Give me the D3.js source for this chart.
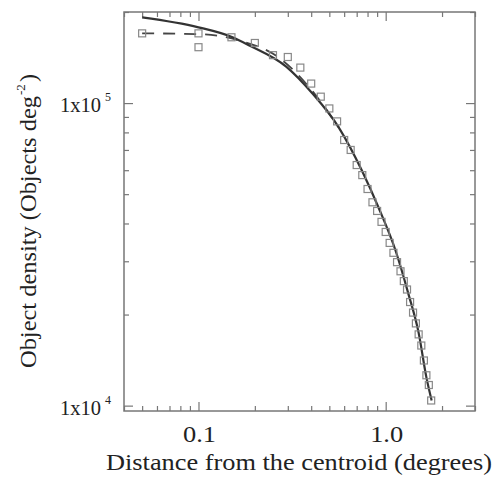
<!DOCTYPE html>
<html><head><meta charset="utf-8">
<script src="https://cdn.jsdelivr.net/npm/d3@7"></script>
<style>body{margin:0;background:#fff}svg{display:block}</style>
</head><body>
<svg id="c" width="495" height="477"></svg>
<script>
// Data
const radius = [0.05,0.1,0.1,0.15,0.2,0.25,0.3,0.35,0.4,0.45,0.5,0.55,0.6,0.65,0.7,0.75,0.8,0.85,0.9,0.95,1.0,1.05,1.1,1.15,1.2,1.25,1.3,1.35,1.4,1.45,1.5,1.55,1.6,1.65,1.7,1.75];
const density = [1.70e5,1.70e5,1.53e5,1.65e5,1.58e5,1.44e5,1.42e5,1.31e5,1.16e5,1.05e5,9.6e4,8.7e4,7.55e4,7.0e4,6.24e4,5.78e4,5.2e4,4.7e4,4.4e4,4.05e4,3.75e4,3.45e4,3.2e4,2.98e4,2.78e4,2.58e4,2.42e4,2.2e4,2.03e4,1.87e4,1.72e4,1.58e4,1.41e4,1.26e4,1.17e4,1.04e4];
const fitSolidX = [0.05,0.1,0.152,0.187,0.294,0.404,0.562,0.745,0.918,1.13,1.32,1.50,1.65,1.76];
const fitSolidY = [1.92e5,1.78e5,1.65e5,1.55e5,1.32e5,1.08e5,8.3e4,6.0e4,4.5e4,3.25e4,2.35e4,1.74e4,1.24e4,1.04e4];
const fitDashX = [0.05,0.1,0.165,0.27,0.404,0.562];
const fitDashY = [1.70e5,1.69e5,1.61e5,1.41e5,1.10e5,8.3e4];
const xMajorLabels = ["0.1","1.0"];
const yMajorLabels = [["1x10","4"],["1x10","5"]];

const svg = d3.select("#c");
const L=124,R=475,T=12,B=411;
const x = d3.scaleLog().domain([0.04,3]).range([L,R]);
const y = d3.scaleLog().domain([9.6e3,2e5]).range([B,T]);
const font = "'Liberation Serif','Times New Roman',serif";
const axisCol = "#777";
const txtCol = "#222";

const isMajor = v => Math.abs(Math.log10(v) - Math.round(Math.log10(v))) < 1e-6;
const xt = x.ticks().filter(v=>v>=0.04 && v<=3);
const yt = y.ticks().filter(v=>v>=9.6e3 && v<=2e5);

function addAxis(axisFn, scale, ticks, transform, horiz, inwardSign){
  const g = svg.append("g").attr("transform",transform);
  g.call(axisFn(scale).tickValues(ticks).tickSize(-5).tickFormat(""));
  g.selectAll(".tick line").filter(d=>isMajor(d)).attr(horiz?"y2":"x2", inwardSign*9);
  g.select(".domain").remove();
  g.selectAll(".tick line").attr("stroke",axisCol).attr("stroke-width",1.2);
  g.selectAll(".tick text").remove();
}
addAxis(d3.axisBottom, x, xt, `translate(0,${B})`, true, -1);
addAxis(d3.axisTop, x, xt, `translate(0,${T})`, true, 1);
addAxis(d3.axisLeft, y, yt, `translate(${L},0)`, false, 1);
addAxis(d3.axisRight, y, yt, `translate(${R},0)`, false, -1);

svg.append("rect").attr("x",L).attr("y",T).attr("width",R-L).attr("height",B-T)
  .attr("fill","none").attr("stroke",axisCol).attr("stroke-width",1.5);

// x labels
const xMaj = xt.filter(isMajor);
svg.append("g").selectAll("text").data(xMaj).join("text")
  .attr("x",d=>x(d)+1).attr("y",442).attr("text-anchor","middle")
  .attr("font-family",font).attr("font-size",24).attr("fill",txtCol)
  .attr("textLength",33).attr("lengthAdjust","spacingAndGlyphs")
  .text((d,i)=>xMajorLabels[i]);
// y labels
const yMaj = yt.filter(isMajor);
const yl = svg.append("g").selectAll("g").data(yMaj).join("g");
yl.append("text").attr("x",L-64).attr("y",d=>y(d)+9)
  .attr("font-family",font).attr("font-size",22).attr("fill",txtCol)
  .attr("textLength",41).attr("lengthAdjust","spacingAndGlyphs")
  .text((d,i)=>yMajorLabels[i][0]);
yl.append("text").attr("x",L-19).attr("y",d=>y(d)-2)
  .attr("font-family",font).attr("font-size",12).attr("fill",txtCol)
  .text((d,i)=>yMajorLabels[i][1]);

// axis titles
svg.append("text").attr("x",299).attr("y",470).attr("text-anchor","middle")
  .attr("font-family",font).attr("font-size",24).attr("fill",txtCol)
  .attr("textLength",386).attr("lengthAdjust","spacingAndGlyphs")
  .text("Distance from the centroid (degrees)");
const yTitle = svg.append("g").attr("transform","translate(36,221) rotate(-90)");
yTitle.append("text").attr("x",-147).attr("y",0)
  .attr("font-family",font).attr("font-size",24).attr("fill",txtCol)
  .attr("textLength",272).attr("lengthAdjust","spacingAndGlyphs")
  .text("Object density (Objects deg");
yTitle.append("text").attr("x",126).attr("y",-11)
  .attr("font-family",font).attr("font-size",13).attr("fill",txtCol)
  .text("-2");
yTitle.append("text").attr("x",139).attr("y",0)
  .attr("font-family",font).attr("font-size",24).attr("fill",txtCol)
  .text(")");

// lines
const line = d3.line().x(d=>x(d[0])).y(d=>y(d[1])).curve(d3.curveMonotoneX);
svg.append("path").datum(fitDashX.map((v,i)=>[v,fitDashY[i]])).attr("d",line)
  .attr("fill","none").attr("stroke","#444").attr("stroke-width",1.8).attr("stroke-dasharray","12,9");
svg.append("path").datum(fitSolidX.map((v,i)=>[v,fitSolidY[i]])).attr("d",line)
  .attr("fill","none").attr("stroke","#333").attr("stroke-width",2.2);

// points
const s=7;
svg.append("g").selectAll("rect").data(radius.map((v,i)=>[v,density[i]])).join("rect")
  .attr("x",d=>x(d[0])-s/2).attr("y",d=>y(d[1])-s/2).attr("width",s).attr("height",s)
  .attr("fill","none").attr("stroke","#888").attr("stroke-width",1.2);
</script>
</body></html>
